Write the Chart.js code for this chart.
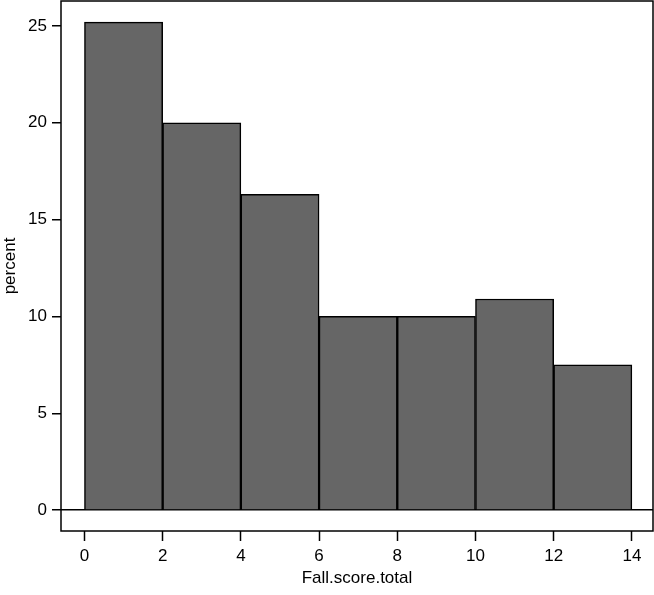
<!DOCTYPE html>
<html>
<head>
<meta charset="utf-8">
<script src="https://cdn.jsdelivr.net/npm/chart.js@4"></script>
<style>
  html, body { margin: 0; padding: 0; background: #fff; }
  #wrap { width: 654px; height: 595px; }
</style>
</head>
<body>
<div id="wrap"><canvas id="myChart" width="654" height="595"></canvas></div>
<script>
// histogram bins (midpoints) and percent per bin
const binMids = [1, 3, 5, 7, 9, 11, 13];
const percents = [25.2, 20.0, 16.3, 10.0, 10.0, 10.9, 7.5];
const xTicks = [0, 2, 4, 6, 8, 10, 12, 14];
const yTicks = [0, 5, 10, 15, 20, 25];

const font = { family: 'Liberation Sans, Arial, sans-serif', size: 17 };

// box round the plot area
const frame = {
    id: 'frame',
    afterDraw(chart) {
        const a = chart.chartArea;
        const c = chart.ctx;
        c.save();
        c.strokeStyle = '#000';
        c.lineWidth = 1.5;
        c.strokeRect(a.left, a.top, a.right - a.left, a.bottom - a.top);
        c.restore();
    }
};

const ctx = document.getElementById('myChart');
new Chart(ctx, {
    type: 'bar',
    data: {
        datasets: [{
            data: binMids.map((m, i) => ({ x: m, y: percents[i] })),
            backgroundColor: '#666666',
            borderColor: '#000000',
            borderWidth: 1.5,
            barPercentage: 1,
            categoryPercentage: 1
        }]
    },
    options: {
        responsive: false,
        animation: false,
        layout: { padding: { top: 1, right: 1, left: 0, bottom: 6 } },
        plugins: { legend: { display: false }, tooltip: { enabled: false } },
        scales: {
            x: {
                type: 'linear',
                offset: false,
                min: -0.6,
                max: 14.54,
                afterBuildTicks: axis => { axis.ticks = xTicks.map(v => ({ value: v })); },
                afterFit: axis => { axis.height = 58; axis.paddingLeft = 0; axis.paddingRight = 0; },
                grid: { display: true, offset: false, drawOnChartArea: false, tickLength: 10, tickColor: '#000', tickWidth: 1.5 },
                border: { display: false },
                ticks: { color: '#000', font: font, padding: 5, maxRotation: 0 },
                title: { display: true, text: 'Fall.score.total', color: '#000', font: font, padding: 0 }
            },
            y: {
                min: -1.08,
                max: 26.29,
                afterBuildTicks: axis => { axis.ticks = yTicks.map(v => ({ value: v })); },
                afterFit: axis => { axis.width = 61; axis.paddingTop = 0; axis.paddingBottom = 0; },
                grid: {
                    display: true,
                    color: c => c.tick && c.tick.value === 0 ? '#000' : 'rgba(0,0,0,0)',
                    lineWidth: 1.5,
                    tickLength: 9,
                    tickColor: '#000',
                    tickWidth: 1.5
                },
                border: { display: false },
                ticks: { color: '#000', font: font, padding: 5 },
                title: { display: true, text: 'percent', color: '#000', font: font, padding: 0 }
            }
        }
    },
    plugins: [frame]
});
</script>
</body>
</html>
